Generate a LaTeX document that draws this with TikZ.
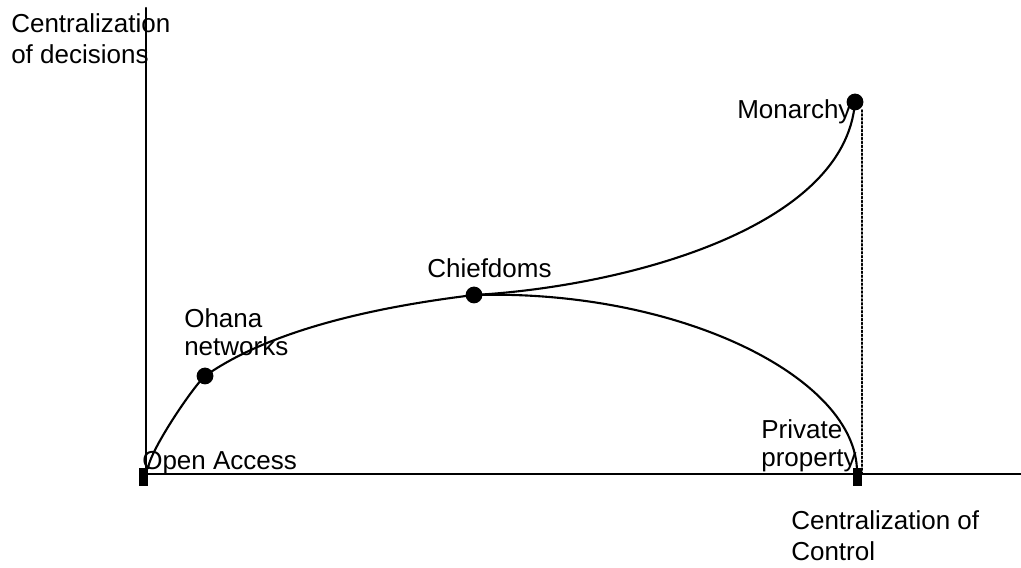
\documentclass[tikz,border=0pt]{standalone}
\usepackage{amssymb}
\usepackage{amsmath}
\usepackage{fontspec}
\setmainfont{Liberation Sans}
\usepackage{pgf,tikz}
\usepackage{tkz-euclide}
\usepackage{xcolor}
\usetikzlibrary{arrows}
\usetikzlibrary{arrows, calc}

\begin{document}
\begin{tikzpicture}
    \useasboundingbox (0,0) rectangle (25.525,14.175);
    \tikzset{lbl/.style={anchor=north west, inner sep=0pt, align=left,
        font=\fontsize{18.5}{22}\selectfont}}

    % axes
    \tkzDefPoint(3.65,2.325){O}
    \tkzDefPoint(3.65,13.975){y_top}
    \tkzDefPoint(25.525,2.325){x_end}
    \tkzDrawSegments[line width=1.5pt](O,y_top O,x_end)
    \fill (3.475,2.025) rectangle (3.7,2.475);
    \fill (21.325,2.025) rectangle (21.55,2.475);

    % points on the curve
    \tkzDefPoint(3.7,2.45){v_0}
    \tkzDefPoint(5.125,4.775){v_1}
    \tkzDefPoint(11.85,6.8){v_2}
    \tkzDefPoint(21.375,11.625){v_3}
    \tkzDefPoint(21.425,2.375){v_4}
    \tkzDefPoint(21.55,11.425){d_1}
    \tkzDefPoint(21.55,2.3){d_2}

    \draw[line width=1.5pt] (v_0) .. controls (3.725,2.875) and (4.8,4.475) .. (v_1)
        .. controls (6.76,5.925) and (9.375,6.5) .. (v_2);
    \draw[line width=1.5pt] (v_2) .. controls (15.5,7.0) and (21.125,8.425) .. (v_3);
    \draw[line width=1.5pt] (v_2) .. controls (17.0,6.95) and (21.425,4.725) .. (v_4);
    \tkzDrawSegments[line width=1.1pt, dash pattern=on 1.4pt off 1.4pt](d_1,d_2)

    \foreach \p in {v_1,v_2,v_3}
        \fill (\p) circle (0.21);

    % labels
    \node[lbl, font=\fontsize{18.5}{22.5}\selectfont] (ylab) at (0.275,13.85) {Centralization\\of decisions};
    \node[lbl, font=\fontsize{18.5}{22.5}\selectfont] (xlab) at (19.775,1.42) {Centralization of\\Control};
    \node[lbl] (open) at (3.55,2.9) {Open Access};
    \node[lbl, font=\fontsize{18.5}{20}\selectfont] (ohana) at (4.6,6.475) {Ohana\\networks};
    \node[lbl] (chief) at (10.675,7.725) {Chiefdoms};
    \node[lbl] (mon) at (18.425,11.7) {Monarchy};
    \node[lbl, font=\fontsize{18.5}{20}\selectfont] (priv) at (19.025,3.7) {Private\\property};
\end{tikzpicture}
\end{document}
